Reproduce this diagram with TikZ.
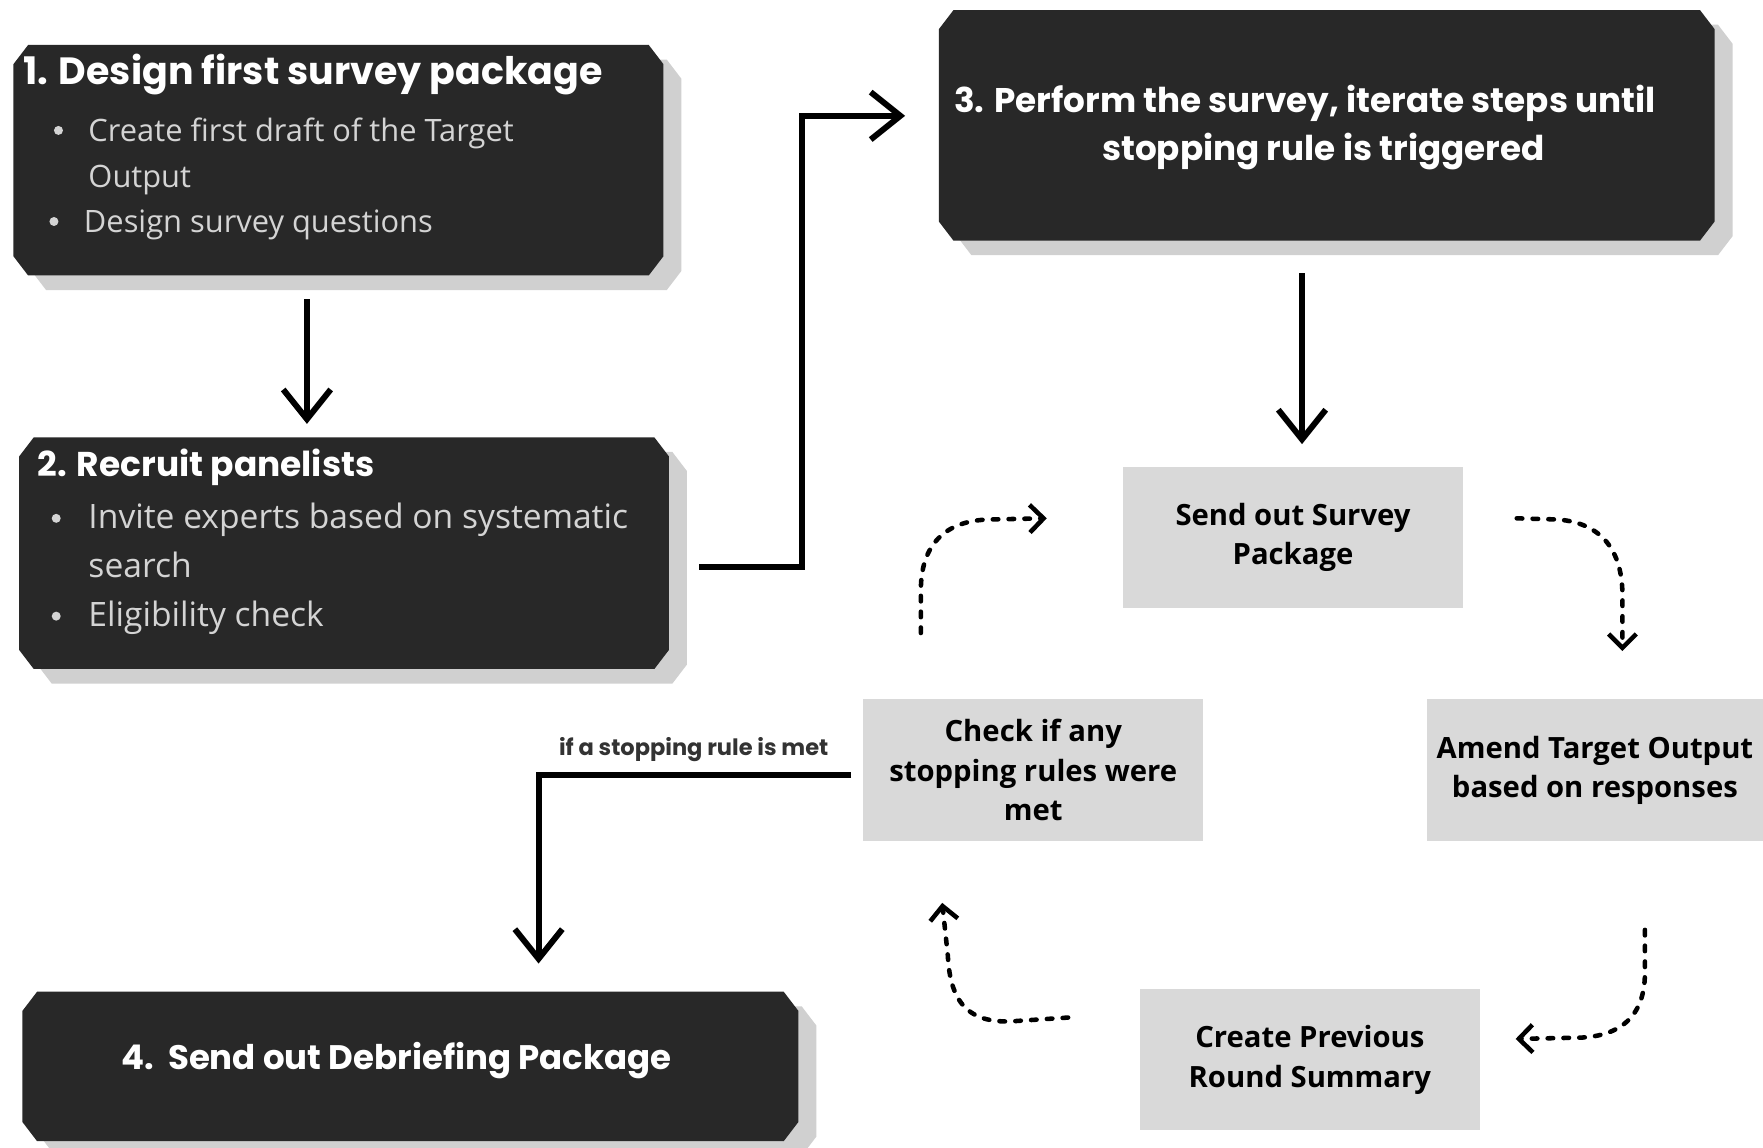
\documentclass[tikz,border=0pt]{standalone}
\usepackage{fontspec}
\setmainfont{Open Sans}
\newfontfamily\ttl{Poppins}
\usetikzlibrary{arrows.meta,fit}
\definecolor{dark}{HTML}{282828}
\definecolor{shadowgrey}{HTML}{D0D0D0}
\definecolor{boxgrey}{HTML}{D9D9D9}
\definecolor{bullgrey}{HTML}{D4D4D4}
\definecolor{lbl}{HTML}{333333}
\newcommand\chamf[4]{({#1+13},#2) -- ({#3-13},#2) -- (#3,{#2+17}) -- (#3,{#4-17}) -- ({#3-13},#4) -- ({#1+13},#4) -- (#1,{#4-17}) -- (#1,{#2+17}) -- cycle}
\newcommand\dbox[5]{%
  \fill[shadowgrey] \chamf{#2+16}{#3+13}{#4+16}{#5+13};
  \fill[dark] \chamf{#2}{#3}{#4}{#5};
  \node[fit={(#2,#3) (#4,#5)}, inner sep=0pt] (#1) {};
}
\begin{document}
\begin{tikzpicture}[x=0.01cm,y=-0.01cm,
  greybox/.style={rectangle, fill=boxgrey, draw=none, inner sep=0pt, align=center,
    minimum width=3.02cm, minimum height=1.26cm, font=\bfseries\fontsize{7.4}{10}\selectfont},
  ttitle/.style={text=white, inner sep=0pt},
  bt1/.style={text=bullgrey, font=\fontsize{7.8}{9}\selectfont, inner sep=0pt, anchor=mid west},
  bt2/.style={text=bullgrey, font=\fontsize{8.5}{10}\selectfont, inner sep=0pt, anchor=mid west},
  bul/.style={circle, fill=bullgrey, inner sep=0pt, minimum size=0.08cm},
  arr/.style={line width=1.5pt, -{Straight Barb[length=7.5pt,width=12pt]}},
  dsh/.style={line width=1.15pt, dash pattern=on 1.4pt off 2.6pt, line cap=round,
    -{Straight Barb[length=3.5pt,width=7pt]}}
]
\useasboundingbox[fill=white] (0,0) rectangle (1568,1021);

% dark boxes
\dbox{b1}{12}{40}{590}{245}
\dbox{b2}{17}{389}{595}{595}
\dbox{b3}{835}{9}{1525}{214}
\dbox{b4}{20}{882}{710}{1015}

% box 1 text
\node[ttitle, anchor=mid west, font=\ttl\bfseries\fontsize{9.6}{11}\selectfont] (t1) at (20,66) {1. Design first survey package};
\node[bul] (p11) at (52,116) {};
\node[bt1] (l11) at (78,116) {Create first draft of the Target};
\node[bt1] (l12) at (78,157) {Output};
\node[bul] (p12) at (48,197) {};
\node[bt1] (l13) at (74,197) {Design survey questions};

% box 2 text
\node[ttitle, anchor=mid west, font=\ttl\bfseries\fontsize{8.7}{11}\selectfont] (t2) at (33,414) {2. Recruit panelists};
\node[bul] (p21) at (50,461) {};
\node[bt2] (l21) at (78,461) {Invite experts based on systematic};
\node[bt2] (l22) at (78,504) {search};
\node[bul] (p22) at (50,548) {};
\node[bt2] (l23) at (78,548) {Eligibility check};

% box 3 text
\node[ttitle, anchor=mid west, font=\ttl\bfseries\fontsize{8.65}{11}\selectfont] (t31) at (848,91) {3. Perform the survey, iterate steps until};
\node[ttitle, anchor=mid, font=\ttl\bfseries\fontsize{8.65}{11}\selectfont] (t32) at (1177,133) {stopping rule is triggered};

% box 4 text
\node[ttitle, anchor=mid west, font=\ttl\bfseries\fontsize{8.6}{11}\selectfont] (t4) at (107,942) {4.\ \ Send out Debriefing Package};

% grey boxes
\node[greybox] (send) at (1150,478) {Send out Survey\\Package};
\node[greybox] (check) at (919,685) {Check if any\\stopping rules were\\met};
\node[greybox, minimum width=2.99cm] (amend) at (1418.5,685) {Amend Target Output\\based on responses};
\node[greybox, minimum height=1.25cm] (create) at (1165,942.5) {Create Previous\\Round Summary};

% connector end points
\coordinate (a1s) at (273,266);
\coordinate (a1e) at (273,377);
\coordinate (a2s) at (622,504);
\coordinate (a2k) at (713,504);
\coordinate (a2e) at (805,103);
\coordinate (a3s) at (1158,243);
\coordinate (a3e) at (1158,395);
\coordinate (a4s) at (757,689);
\coordinate (a4e) at (479,857);

% solid arrows
\draw[arr] (a1s) -- (a1e);
\draw[arr] (a2s) -- (a2k) |- (a2e);
\draw[arr] (a3s) -- (a3e);
\draw[arr] (a4s) -| (a4e);
\node[text=lbl, font=\ttl\bfseries\fontsize{5.7}{7}\selectfont, inner sep=0pt] (lab) at (617,667) {if a stopping rule is met};

% dashed loop arrows
\coordinate (d1s) at (819,563);
\coordinate (d1e) at (931,461);
\coordinate (d2s) at (1349,461);
\coordinate (d2e) at (1443,579);
\coordinate (d3s) at (1463,827);
\coordinate (d3e) at (1348,924);
\coordinate (d4s) at (950,905);
\coordinate (d4e) at (838,803);
\draw[dsh] (d1s) -- (819,525) .. controls (819,485) and (840,463) .. (880,462) -- (d1e);
\draw[dsh] (d2s) -- (1385,462) .. controls (1425,465) and (1443,490) .. (1443,530) -- (d2e);
\draw[dsh] (d3s) -- (1463,865) .. controls (1463,905) and (1440,923) .. (1400,923) -- (d3e);
\draw[dsh] (d4s) -- (905,908) .. controls (860,912) and (845,890) .. (843,850) -- (d4e);
\end{tikzpicture}
\end{document}
